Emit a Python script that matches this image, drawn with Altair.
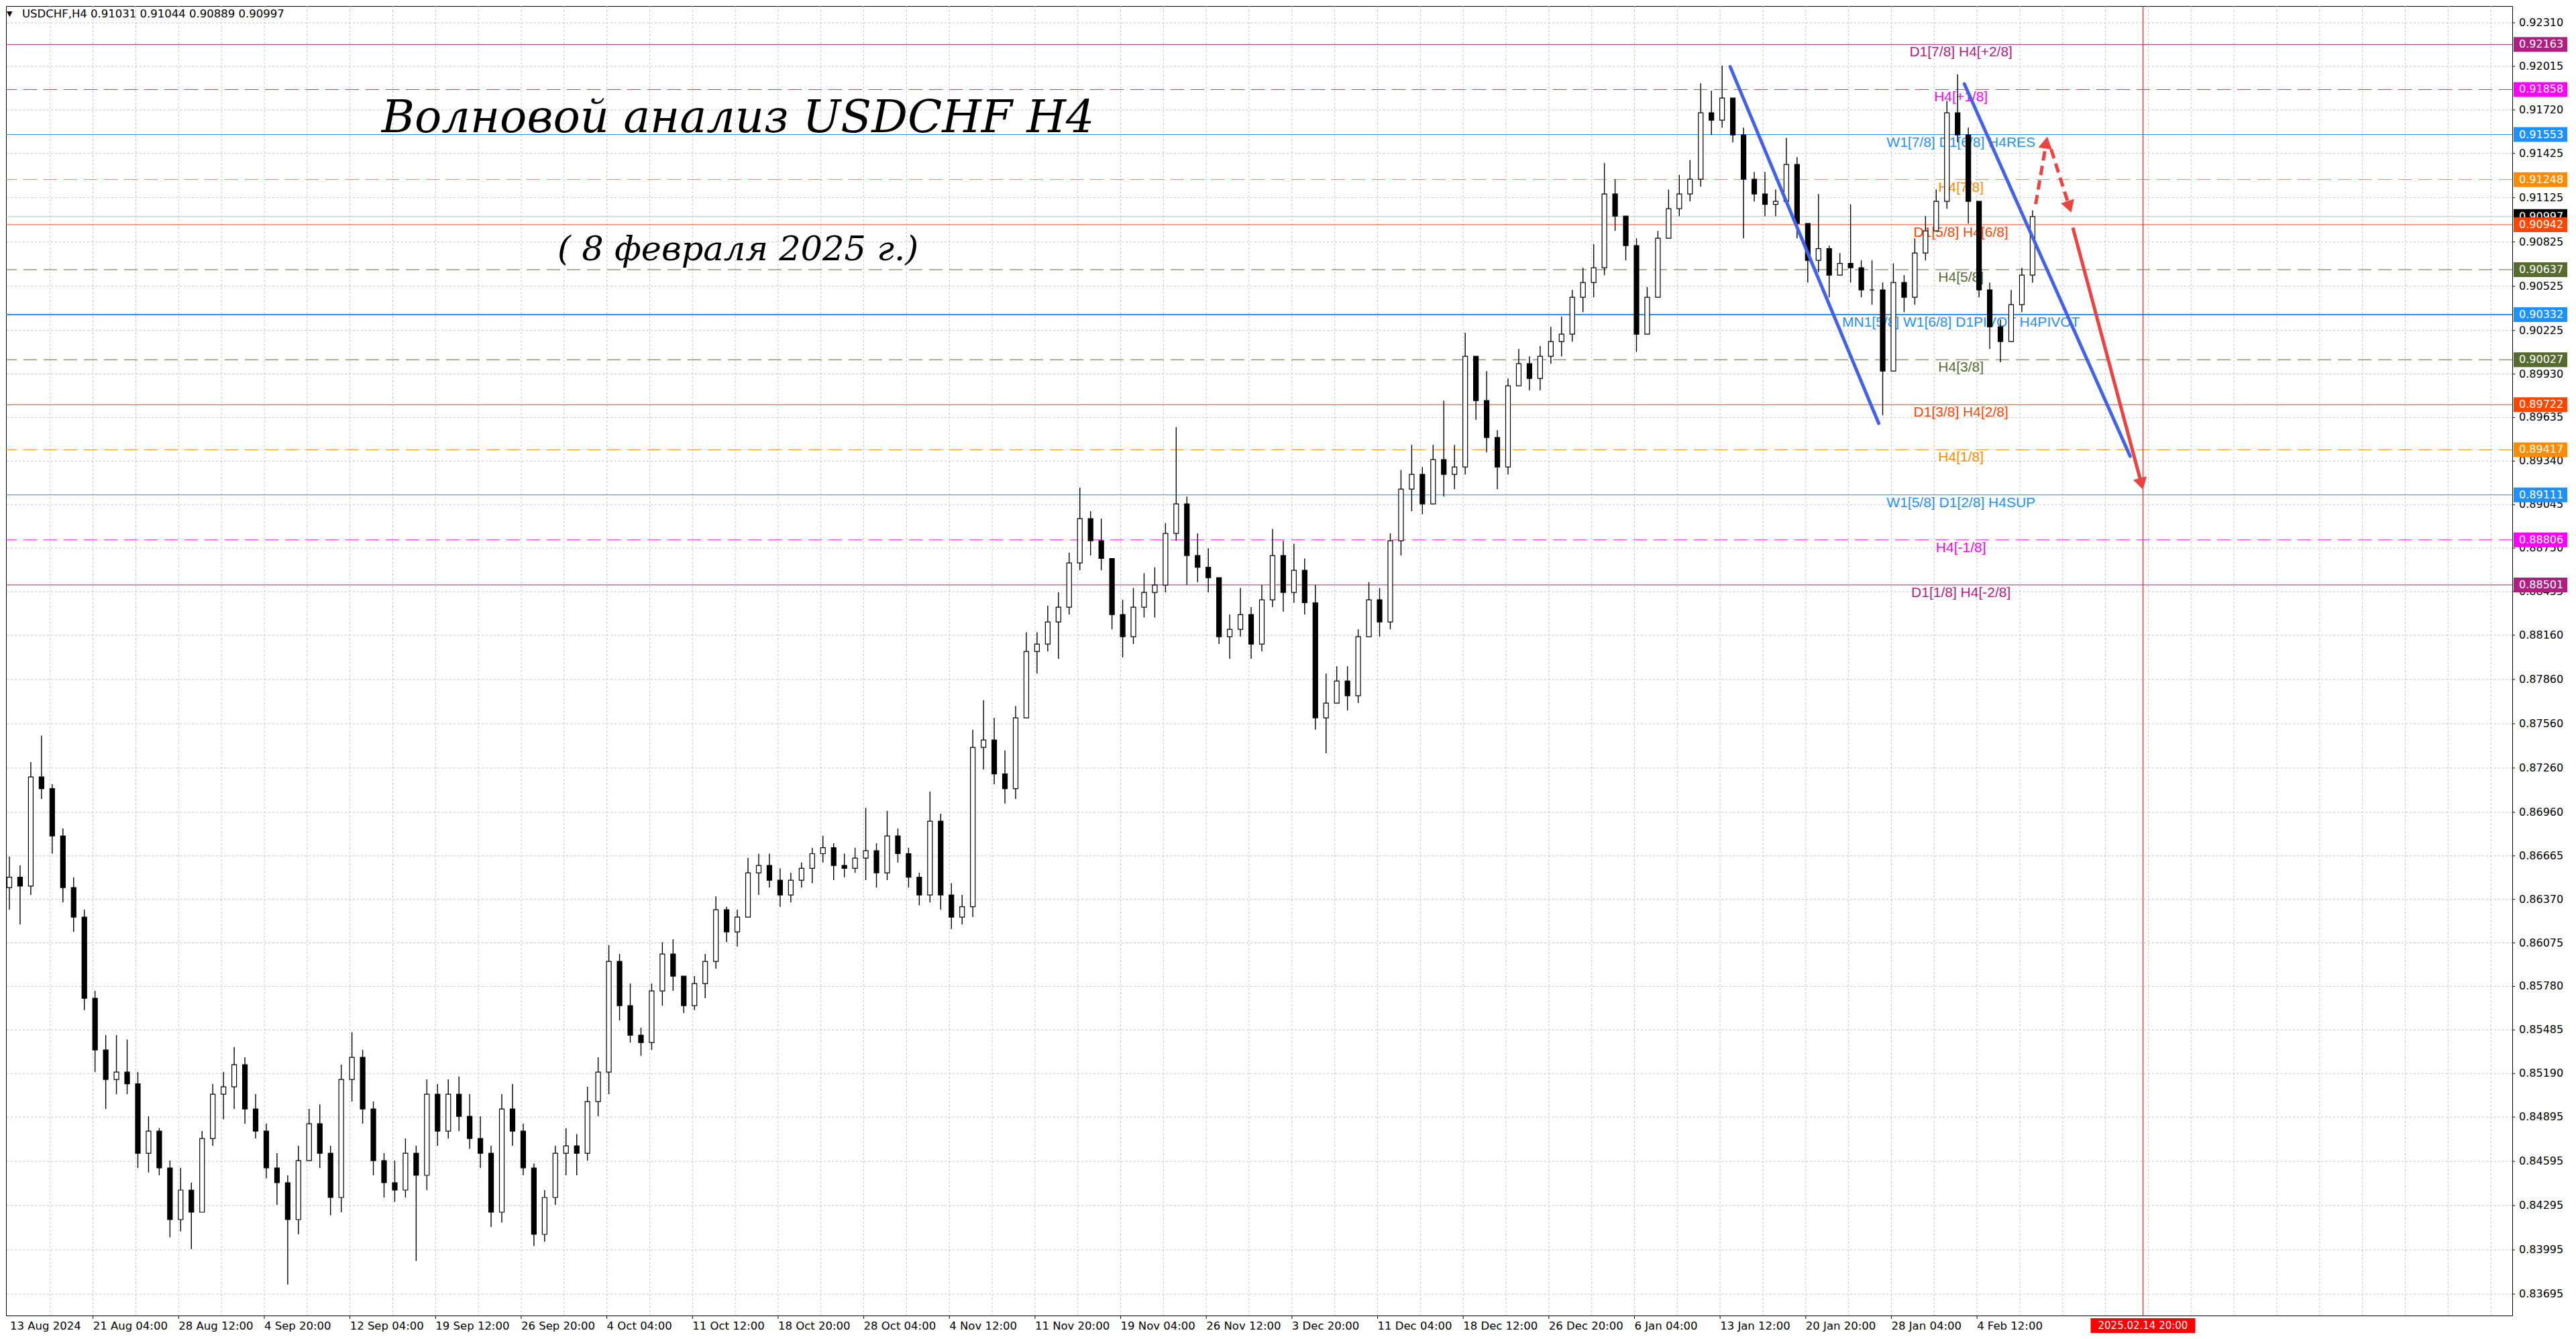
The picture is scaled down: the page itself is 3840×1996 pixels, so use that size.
import altair as alt
import pandas as pd

# ---------------- layout constants ----------------
W, H = 3736, 1952
T_MIN, T_MAX = 1.75, 935.75          # H4 bar index range of the plot
P_TOP, P_BOT = 0.924237, 0.83550     # price range of the plot

# ---------------- candles (each = 4 H4 bars) ----------------
first_open = 0.8645
highs = [
    .8666, .8660, .8730, .8748, .8715, .8685, .8652, .8630, .8575, .8545,
    .8545, .8542, .8520, .8490, .8482, .8460, .8455, .8445, .8480, .8512,
    .8520, .8537, .8530, .8505, .8485, .8465, .8450, .8470, .8495, .8498,
    .8470, .8525, .8547, .8535, .8500, .8465, .8460, .8475, .8470, .8515,
    .8512, .8515, .8517, .8505, .8490, .8470, .8505, .8512, .8485, .8458,
    .8440, .8470, .8482, .8478, .8510, .8530, .8606, .8600, .8580, .8550,
    .8580, .8608, .8610, .8585, .8585, .8600, .8639, .8632, .8630, .8665,
    .8668, .8668, .8658, .8655, .8662, .8672, .8680, .8675, .8668, .8672,
    .8699, .8675, .8697, .8685, .8672, .8655, .8710, .8695, .8648, .8640,
    .8752, .8772, .8760, .8738, .8768, .8818, .8818, .8836, .8845, .8872,
    .8916, .8900, .8895, .8865, .8840, .8848, .8858, .8862, .8892, .8957,
    .8910, .8885, .8875, .8855, .8830, .8848, .8835, .8850, .8888, .8880,
    .8878, .8868, .8850, .8790, .8795, .8795, .8820, .8852, .8848, .8885,
    .8928, .8945, .8930, .8945, .8975, .8945, .9021, .9005, .8995, .8955,
    .8990, .9010, .9005, .9012, .9025, .9032, .9050, .9065, .9081, .9136,
    .9125, .9100, .9085, .9052, .9090, .9118, .9128, .9138, .9190, .9185,
    .9202, .9180, .9160, .9130, .9130, .9118, .9153, .9140, .9095, .9115,
    .9080, .9075, .9108, .9070, .9070, .9055, .9068, .9060, .9085, .9100,
    .9118, .9178, .9196, .9160, .9110, .9055, .9030, .9050, .9065, .9104,
]
lows = [
    .8630, .8620, .8640, .8705, .8668, .8635, .8615, .8562, .8520, .8495,
    .8505, .8505, .8455, .8452, .8450, .8408, .8412, .8400, .8425, .8470,
    .8488, .8495, .8485, .8475, .8448, .8430, .8376, .8410, .8460, .8455,
    .8423, .8425, .8500, .8485, .8450, .8435, .8432, .8435, .8392, .8440,
    .8470, .8475, .8480, .8468, .8455, .8415, .8418, .8470, .8450, .8402,
    .8405, .8430, .8450, .8450, .8460, .8490, .8505, .8555, .8540, .8531,
    .8535, .8565, .8575, .8560, .8562, .8570, .8590, .8608, .8605, .8625,
    .8640, .8645, .8632, .8635, .8645, .8648, .8662, .8650, .8652, .8655,
    .8650, .8645, .8650, .8662, .8645, .8633, .8635, .8630, .8617, .8620,
    .8625, .8725, .8715, .8702, .8705, .8760, .8790, .8805, .8800, .8830,
    .8860, .8870, .8860, .8820, .8801, .8810, .8828, .8828, .8845, .8880,
    .8850, .8852, .8845, .8810, .8800, .8815, .8800, .8805, .8835, .8832,
    .8838, .8830, .8752, .8736, .8770, .8765, .8770, .8815, .8815, .8820,
    .8870, .8900, .8898, .8905, .8910, .8915, .8925, .8962, .8940, .8915,
    .8925, .8985, .8982, .8982, .9000, .9005, .9015, .9035, .9045, .9060,
    .9090, .9070, .9008, .9020, .9045, .9085, .9100, .9110, .9120, .9155,
    .9160, .9150, .9085, .9110, .9100, .9100, .9110, .9085, .9055, .9062,
    .9045, .9060, .9055, .9045, .9040, .8965, .9000, .9035, .9040, .9070,
    .9090, .9105, .9150, .9095, .9045, .9010, .9001, .9015, .9035, .9055,
]
closes = [
    .8652, .8646, .8720, .8712, .8680, .8645, .8625, .8570, .8535, .8515,
    .8520, .8512, .8465, .8480, .8455, .8420, .8440, .8425, .8475, .8505,
    .8510, .8525, .8495, .8480, .8455, .8445, .8420, .8460, .8485, .8465,
    .8435, .8515, .8530, .8495, .8460, .8445, .8440, .8465, .8450, .8505,
    .8480, .8505, .8490, .8475, .8465, .8425, .8495, .8480, .8455, .8410,
    .8435, .8465, .8470, .8465, .8500, .8520, .8595, .8565, .8545, .8540,
    .8575, .8600, .8585, .8565, .8580, .8595, .8630, .8615, .8625, .8655,
    .8660, .8650, .8640, .8650, .8658, .8668, .8672, .8660, .8658, .8665,
    .8670, .8655, .8680, .8668, .8652, .8640, .8690, .8640, .8625, .8632,
    .8740, .8745, .8722, .8712, .8760, .8805, .8810, .8825, .8835, .8865,
    .8895, .8880, .8868, .8830, .8815, .8835, .8845, .8850, .8885, .8905,
    .8870, .8862, .8855, .8815, .8820, .8830, .8810, .8840, .8870, .8845,
    .8860, .8838, .8760, .8770, .8785, .8775, .8815, .8840, .8825, .8880,
    .8915, .8925, .8905, .8935, .8925, .8930, .9005, .8975, .8950, .8930,
    .8985, .9000, .8990, .9005, .9015, .9020, .9045, .9055, .9065, .9115,
    .9100, .9080, .9020, .9045, .9085, .9105, .9115, .9125, .9170, .9165,
    .9180, .9155, .9125, .9115, .9108, .9110, .9135, .9095, .9070, .9078,
    .9060, .9068, .9065, .9050, .9050, .8995, .9055, .9045, .9075, .9090,
    .9110, .9170, .9155, .9110, .9050, .9025, .9015, .9040, .9060, .90997,
]

opens = [first_open] + closes[:-1]
rows = []
for g, (o, h, l, c) in enumerate(zip(opens, highs, lows, closes)):
    rows.append({"t": 4 * g + 1.75, "open": o, "close": c,
                 "high": max(h, o, c), "low": min(l, o, c)})
candles = pd.DataFrame(rows)

# ---------------- Murrey levels ----------------
lvl_price = [0.92163, 0.91858, 0.91553, 0.91248, 0.90997, 0.90942, 0.90637,
             0.90332, 0.90027, 0.89722, 0.89417, 0.89111, 0.88806, 0.88501]
lvl_line_color = ["#B01E82", "#FF00FF", "#1E90FF", "#FF8C00", "#C0C0C0", "#FF4500", "#556B2F",
                  "#1E90FF", "#556B2F", "#FF4500", "#FF8C00", "#1E90FF", "#FF00FF", "#B01E82"]
lvl_box_color = ["#B01E82", "#FF00FF", "#1E90FF", "#FF8C00", "#000000", "#FF4500", "#556B2F",
                 "#1E90FF", "#556B2F", "#FF4500", "#FF8C00", "#1E90FF", "#FF00FF", "#B01E82"]
lvl_style = ["solid", "dash", "solid", "dash", "solid", "solid", "dash",
             "thick", "dash", "solid", "dash", "solid", "dash", "solid"]
lvl_label = ["D1[7/8] H4[+2/8]", "H4[+1/8]", "W1[7/8] D1[6/8] H4RES", "H4[7/8]", "",
             "D1[5/8] H4[6/8]", "H4[5/8]", "MN1[5/8] W1[6/8] D1PIVOT H4PIVOT", "H4[3/8]",
             "D1[3/8] H4[2/8]", "H4[1/8]", "W1[5/8] D1[2/8] H4SUP", "H4[-1/8]", "D1[1/8] H4[-2/8]"]
label_t = 731

levels = pd.DataFrame({"price": lvl_price, "lc": lvl_line_color, "bc": lvl_box_color,
                       "style": lvl_style, "label": lvl_label})
levels["ptxt"] = [f"{p:.5f}" for p in lvl_price]
levels["lt"] = label_t

# ---------------- drawn lines ----------------
blue_t1 = [644.75, 732.25]
blue_p1 = [0.92013, 0.91896]
blue_t2 = [700.25, 794.2]
blue_p2 = [0.89596, 0.89373]
red_solid = pd.DataFrame({"t1": [772.8], "p1": [0.90922], "t2": [798.45], "p2": [0.89185]})
red_dash = pd.DataFrame({"t1": [758.9, 764.7], "p1": [0.91081, 0.91452],
                         "t2": [762.87, 771.5], "p2": [0.91498, 0.91063]})
arrow_t = [798.45, 762.87, 771.5]
arrow_p = [0.89185, 0.91498, 0.91063]
arrow_shape = ["triangle-down", "triangle-up", "triangle-down"]
arrow_angle = [345, 10, 342]

now_t = 799
now_label = "2025.02.14 20:00"

# ---------------- axes ----------------
yt_vals = [0.92310, 0.92015, 0.91720, 0.91425, 0.91125, 0.90825, 0.90525, 0.90225,
           0.89930, 0.89635, 0.89340, 0.89045, 0.88750, 0.88455, 0.88160, 0.87860,
           0.87560, 0.87260, 0.86960, 0.86665, 0.86370, 0.86075, 0.85780, 0.85485,
           0.85190, 0.84895, 0.84595, 0.84295, 0.83995, 0.83695]
xt_vals = [2] + [33 + 32 * k for k in range(23)]
xt_labels = ["13 Aug 2024", "21 Aug 04:00", "28 Aug 12:00", "4 Sep 20:00", "12 Sep 04:00",
             "19 Sep 12:00", "26 Sep 20:00", "4 Oct 04:00", "11 Oct 12:00", "18 Oct 20:00",
             "28 Oct 04:00", "4 Nov 12:00", "11 Nov 20:00", "19 Nov 04:00", "26 Nov 12:00",
             "3 Dec 20:00", "11 Dec 04:00", "18 Dec 12:00", "26 Dec 20:00", "6 Jan 04:00",
             "13 Jan 12:00", "20 Jan 20:00", "28 Jan 04:00", "4 Feb 12:00"]
vgrid_t = [1 + 16 * k for k in range(1, 59)]

xs = alt.Scale(domain=[T_MIN, T_MAX], nice=False, zero=False)
ys = alt.Scale(domain=[P_BOT, P_TOP], nice=False, zero=False)


def X(f, **kw):
    return alt.X(f, type="quantitative", scale=xs, axis=None, **kw)


def Y(f, **kw):
    return alt.Y(f, type="quantitative", scale=ys, axis=None, **kw)


ytick_df = pd.DataFrame({"p": yt_vals, "txt": [f"{v:.5f}" for v in yt_vals]})
xtick_df = pd.DataFrame({"t": xt_vals, "txt": xt_labels})

# ---------------- layers ----------------
hgrid = alt.Chart(ytick_df).mark_rule(
    color="#C4C4C4", strokeDash=[3, 3], strokeWidth=1).encode(y=Y("p"))
vgrid = alt.Chart(pd.DataFrame({"t": vgrid_t})).mark_rule(
    color="#C4C4C4", strokeDash=[3, 3], strokeWidth=1).encode(x=X("t"))

lv_solid = alt.Chart(levels[levels["style"] == "solid"]).mark_rule(strokeWidth=1).encode(
    y=Y("price"), color=alt.Color("lc:N", scale=None))
lv_thick = alt.Chart(levels[levels["style"] == "thick"]).mark_rule(
    strokeWidth=2, color="#1E90FF", opacity=1).encode(y=Y("price"))
lv_dash = alt.Chart(levels[levels["style"] == "dash"]).mark_rule(strokeWidth=1, strokeDash=[20, 10]).encode(
    y=Y("price"), color=alt.Color("lc:N", scale=None))
lv_text = alt.Chart(levels[levels["label"] != ""]).mark_text(
    align="center", baseline="top", dy=1, font="Liberation Sans", fontSize=21).encode(
    x=X("lt"), y=Y("price"), text="label:N", color=alt.Color("lc:N", scale=None))

now_rule = alt.Chart(pd.DataFrame({"t": [now_t]})).mark_rule(
    color="#FF0000", strokeWidth=1).encode(x=X("t"))

wicks = alt.Chart(candles).mark_rule(color="black", strokeWidth=1.4).encode(
    x=X("t"), y=Y("low"), y2="high")
bodies = alt.Chart(candles).mark_bar(width=7, stroke="black", strokeWidth=1.2).encode(
    x=X("t"), y=Y("open"), y2="close",
    color=alt.condition("datum.close >= datum.open", alt.value("white"), alt.value("black")))

blue = alt.Chart(pd.DataFrame({"t1": blue_t1, "p1": blue_p1, "t2": blue_t2, "p2": blue_p2})).mark_rule(
    color="#4262EA", strokeWidth=5, strokeCap="round").encode(
    x=X("t1"), y=Y("p1"), x2="t2", y2="p2")
red1 = alt.Chart(red_solid).mark_rule(color="#EE4242", strokeWidth=5, strokeCap="butt").encode(
    x=X("t1"), y=Y("p1"), x2="t2", y2="p2")
red2 = alt.Chart(red_dash).mark_rule(color="#EE4242", strokeWidth=5, strokeDash=[14, 8]).encode(
    x=X("t1"), y=Y("p1"), x2="t2", y2="p2")
arrows = alt.Chart(pd.DataFrame({"t": arrow_t, "p": arrow_p, "s": arrow_shape, "a": arrow_angle})).mark_point(
    filled=True, size=430, opacity=1, color="#EE4242").encode(
    x=X("t"), y=Y("p"), shape=alt.Shape("s:N", scale=None), angle=alt.Angle("a:Q", scale=None))

title_t = [274, 274]
title_p = [0.91569, 0.90701]
title_txt = ["Волновой анализ USDCHF H4", "( 8 февраля 2025 г.)"]
title_size = [67, 51]
titles = alt.Chart(pd.DataFrame({"t": title_t, "p": title_p, "txt": title_txt, "fs": title_size})).mark_text(
    font="DejaVu Serif", fontStyle="italic", align="center", baseline="alphabetic", color="black").encode(
    x=X("t"), y=Y("p"), text="txt:N", size=alt.Size("fs:Q", scale=None))

header_tri = alt.Chart(pd.DataFrame({"txt": ["▼"]})).mark_text(
    font="DejaVu Sans", fontSize=11, align="left", baseline="middle", color="black").encode(
    x=alt.value(1), y=alt.value(12), text="txt:N")
header = alt.Chart(pd.DataFrame({"txt": ["USDCHF,H4  0.91031 0.91044 0.90889 0.90997"]})).mark_text(
    font="DejaVu Sans", fontSize=16.5, align="left", baseline="middle", color="black").encode(
    x=alt.value(24), y=alt.value(12), text="txt:N")

# right price axis (ticks + labels)
ytick_marks = alt.Chart(ytick_df).mark_rule(color="black", strokeWidth=1).encode(
    y=Y("p"), x=alt.value(W), x2=alt.value(W + 4))
ytick_text = alt.Chart(ytick_df).mark_text(
    font="DejaVu Sans", fontSize=16, align="left", baseline="middle", color="black").encode(
    y=Y("p"), x=alt.value(W + 10), text="txt:N")
# bottom time axis (ticks + labels)
xtick_marks = alt.Chart(xtick_df[xtick_df["t"] > 10]).mark_rule(color="black", strokeWidth=1).encode(
    x=X("t"), y=alt.value(H), y2=alt.value(H + 5))
xtick_text = alt.Chart(xtick_df).mark_text(
    font="DejaVu Sans", fontSize=16.5, align="left", baseline="top", color="black").encode(
    x=X("t"), y=alt.value(H + 8), text="txt:N")

boxes_black = alt.Chart(levels[levels["bc"] == "#000000"]).mark_tick(orient="horizontal", thickness=22, opacity=1).encode(
    x=alt.value(W + 42), y=Y("price"), color=alt.Color("bc:N", scale=None), size=alt.value(80))
boxes = alt.Chart(levels[levels["bc"] != "#000000"]).mark_tick(orient="horizontal", thickness=22, opacity=1).encode(
    x=alt.value(W + 42), y=Y("price"), color=alt.Color("bc:N", scale=None), size=alt.value(80))
box_txt_black = alt.Chart(levels[levels["bc"] == "#000000"]).mark_text(
    font="DejaVu Sans", fontSize=16, align="left", baseline="middle", color="white").encode(
    x=alt.value(W + 10), y=Y("price"), text="ptxt:N")
box_txt = alt.Chart(levels[levels["bc"] != "#000000"]).mark_text(
    font="DejaVu Sans", fontSize=16, align="left", baseline="middle", color="white").encode(
    x=alt.value(W + 10), y=Y("price"), text="ptxt:N")

now_df = pd.DataFrame({"t": [now_t], "txt": [now_label]})
now_box = alt.Chart(now_df).mark_tick(orient="horizontal", thickness=22, opacity=1, color="#FF0000").encode(
    x=X("t"), y=alt.value(H + 15), size=alt.value(156))
now_txt = alt.Chart(now_df).mark_text(
    font="DejaVu Sans", fontSize=15, align="center", baseline="middle", color="white").encode(
    x=X("t"), y=alt.value(H + 15), text="txt:N")

chart = alt.layer(
    hgrid, vgrid, lv_solid, lv_thick, lv_dash, lv_text, now_rule, wicks, bodies,
    blue, red1, red2, arrows, titles, header_tri, header,
    ytick_marks, ytick_text, xtick_marks, xtick_text,
    boxes_black, box_txt_black, boxes, box_txt, now_box, now_txt
).properties(width=W, height=H, padding=0, background="white").configure_view(
    stroke="black", strokeWidth=1)

chart.save("out.html", embed_options={"renderer": "svg", "actions": False})
